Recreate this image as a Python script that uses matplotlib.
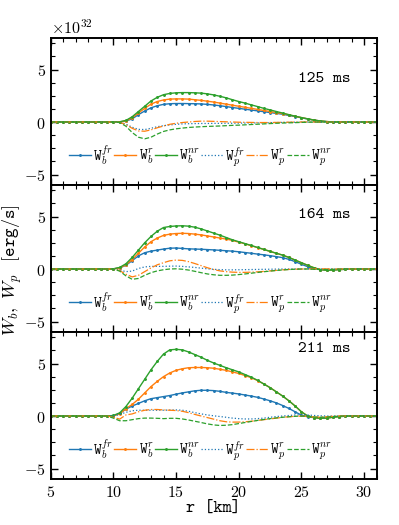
import numpy as np
import matplotlib
matplotlib.use("Agg")
from matplotlib import pyplot as plt
from matplotlib.ticker import MultipleLocator, AutoMinorLocator, FuncFormatter
from matplotlib.font_manager import FontProperties

plt.rcParams["mathtext.fontset"] = "cm"
plt.rcParams["font.family"] = "DejaVu Serif"
tt = FontProperties(fname=matplotlib.get_data_path() + "/fonts/ttf/cmtt10.ttf")

# radius grid [km] (0.5 km sampling), values in units of 1e32 erg/s
r = np.arange(5.0, 31.01, 0.5)
zl = [0.0] * 10   # r = 5 .. 9.5, flat zero
zr = [0.0] * 5    # r = 29 .. 31, flat zero

times = ["125 ms", "164 ms", "211 ms"]

# 125 ms, r = 10 .. 28.5
wb_fr_125 = [0, 0.01, 0.08, 0.3, 0.7, 1.05, 1.35, 1.55, 1.68, 1.74,
             1.76, 1.76, 1.75, 1.74, 1.72, 1.68, 1.62, 1.55, 1.47, 1.38,
             1.3, 1.22, 1.14, 1.06, 0.98, 0.9, 0.82, 0.74, 0.62, 0.52,
             0.4, 0.29, 0.18, 0.1, 0.04, 0.01, 0, 0]
wb_r_125 = [0, 0.01, 0.1, 0.4, 0.85, 1.3, 1.7, 1.95, 2.1, 2.18,
            2.2, 2.2, 2.18, 2.12, 2.06, 1.98, 1.9, 1.8, 1.7, 1.6,
            1.5, 1.4, 1.3, 1.2, 1.1, 1.0, 0.9, 0.8, 0.68, 0.54,
            0.42, 0.3, 0.18, 0.1, 0.04, 0.01, 0, 0]
wb_nr_125 = [0, 0.02, 0.15, 0.5, 1.0, 1.5, 2.0, 2.35, 2.6, 2.72,
             2.78, 2.8, 2.8, 2.78, 2.75, 2.68, 2.58, 2.45, 2.3, 2.12,
             1.95, 1.8, 1.63, 1.47, 1.3, 1.15, 1.0, 0.85, 0.7, 0.55,
             0.42, 0.3, 0.18, 0.1, 0.04, 0.01, 0, 0]
wp_fr_125 = [0, -0.02, -0.2, -0.5, -0.7, -0.72, -0.6, -0.45, -0.35, -0.28,
             -0.22, -0.18, -0.16, -0.15, -0.14, -0.14, -0.13, -0.13, -0.12, -0.12,
             -0.11, -0.1, -0.09, -0.08, -0.07, -0.06, -0.05, -0.04, -0.03, -0.02,
             -0.01, 0, 0, 0, 0, 0, 0, 0]
wp_r_125 = [0, -0.03, -0.25, -0.6, -0.85, -0.88, -0.75, -0.55, -0.38, -0.22,
            -0.12, -0.05, 0.0, 0.05, 0.08, 0.08, 0.06, 0.04, 0.02, 0.0,
            -0.02, -0.03, -0.04, -0.05, -0.05, -0.05, -0.04, -0.03, -0.02, -0.01,
            0, 0, 0, 0, 0, 0, 0, 0]
wp_nr_125 = [0, -0.05, -0.4, -1.0, -1.45, -1.6, -1.45, -1.15, -0.9, -0.75,
             -0.65, -0.58, -0.52, -0.48, -0.45, -0.42, -0.4, -0.38, -0.35, -0.32,
             -0.3, -0.27, -0.24, -0.21, -0.18, -0.15, -0.12, -0.1, -0.08, -0.06,
             -0.04, -0.02, -0.01, 0, 0, 0, 0, 0]

# 164 ms
wb_fr_164 = [0.01, 0.1, 0.35, 0.8, 1.25, 1.55, 1.7, 1.8, 1.9, 1.98,
             2.0, 1.96, 1.92, 1.9, 1.88, 1.85, 1.82, 1.78, 1.74, 1.7,
             1.64, 1.57, 1.5, 1.42, 1.35, 1.27, 1.18, 1.08, 0.92, 0.7,
             0.45, 0.22, 0.05, -0.06, -0.1, -0.08, -0.05, -0.02]
wb_r_164 = [0.01, 0.1, 0.4, 0.9, 1.5, 2.1, 2.6, 2.95, 3.2, 3.32,
            3.38, 3.4, 3.38, 3.32, 3.25, 3.15, 3.05, 2.95, 2.85, 2.72,
            2.56, 2.4, 2.22, 2.04, 1.86, 1.67, 1.5, 1.32, 1.1, 0.85,
            0.6, 0.35, 0.12, -0.05, -0.1, -0.08, -0.05, -0.02]
wb_nr_164 = [0.02, 0.15, 0.5, 1.1, 1.8, 2.5, 3.1, 3.6, 3.95, 4.05,
             4.1, 4.12, 4.08, 3.98, 3.82, 3.62, 3.42, 3.22, 3.0, 2.78,
             2.6, 2.42, 2.24, 2.05, 1.87, 1.68, 1.5, 1.32, 1.1, 0.85,
             0.6, 0.35, 0.12, -0.05, -0.12, -0.1, -0.06, -0.03]
wp_fr_164 = [0, -0.1, -0.25, -0.2, 0.05, 0.2, 0.25, 0.25, 0.25, 0.27,
             0.28, 0.25, 0.2, 0.15, 0.08, 0.02, -0.03, -0.06, -0.08, -0.08,
             -0.07, -0.06, -0.05, -0.04, -0.03, -0.02, -0.01, 0, 0, 0,
             0, 0, 0, 0, 0, 0, 0, 0]
wp_r_164 = [0, -0.15, -0.5, -0.75, -0.6, -0.25, 0.1, 0.4, 0.6, 0.78,
            0.85, 0.82, 0.7, 0.52, 0.32, 0.12, -0.05, -0.18, -0.25, -0.3,
            -0.32, -0.32, -0.3, -0.27, -0.23, -0.18, -0.13, -0.08, -0.04, -0.02,
            0, 0.01, 0.02, 0.02, 0.01, 0, 0, 0]
wp_nr_164 = [0, -0.2, -0.65, -0.98, -0.9, -0.6, -0.35, -0.18, -0.07, 0.0,
             0.02, -0.02, -0.1, -0.22, -0.35, -0.47, -0.55, -0.6, -0.6, -0.58,
             -0.53, -0.47, -0.4, -0.33, -0.26, -0.2, -0.14, -0.09, -0.05, -0.02,
             0, 0, -0.02, -0.05, -0.05, -0.03, -0.01, 0]

# 211 ms
wb_fr_211 = [0.0, 0.25, 0.65, 0.95, 1.2, 1.45, 1.65, 1.75, 1.85, 1.95,
             2.08, 2.2, 2.3, 2.4, 2.45, 2.45, 2.42, 2.35, 2.25, 2.18,
             2.1, 2.0, 1.9, 1.78, 1.62, 1.45, 1.25, 1.0, 0.72, 0.4,
             0.08, -0.08, -0.15, -0.2, -0.18, -0.1, -0.05, -0.02]
wb_r_211 = [0.02, 0.2, 0.7, 1.1, 1.6, 2.2, 2.8, 3.3, 3.75, 4.1,
            4.35, 4.5, 4.6, 4.62, 4.62, 4.6, 4.55, 4.45, 4.35, 4.2,
            4.05, 3.85, 3.65, 3.38, 3.05, 2.7, 2.3, 1.9, 1.45, 0.95,
            0.4, 0.0, -0.15, -0.22, -0.2, -0.12, -0.05, -0.02]
wb_nr_211 = [0.05, 0.3, 0.9, 1.7, 2.6, 3.5, 4.4, 5.2, 5.9, 6.3,
             6.35, 6.3, 6.1, 5.85, 5.6, 5.3, 5.05, 4.82, 4.6, 4.4,
             4.2, 3.95, 3.7, 3.4, 3.05, 2.7, 2.3, 1.9, 1.45, 0.95,
             0.4, 0.0, -0.15, -0.22, -0.2, -0.12, -0.05, -0.02]
wp_fr_211 = [0, 0.15, 0.35, 0.5, 0.55, 0.55, 0.55, 0.55, 0.55, 0.57,
             0.58, 0.55, 0.45, 0.32, 0.2, 0.1, 0.02, -0.05, -0.12, -0.2,
             -0.25, -0.28, -0.28, -0.25, -0.2, -0.12, -0.05, 0.0, 0.05, 0.1,
             0.12, 0.1, 0.05, 0.02, 0, 0, 0, 0]
wp_r_211 = [-0.1, -0.3, 0.1, 0.2, 0.4, 0.55, 0.62, 0.62, 0.58, 0.55,
            0.52, 0.45, 0.32, 0.15, 0.0, -0.15, -0.3, -0.45, -0.55, -0.58,
            -0.58, -0.55, -0.5, -0.42, -0.35, -0.28, -0.2, -0.13, -0.07, -0.03,
            0, -0.05, -0.1, -0.1, -0.07, -0.03, 0, 0]
wp_nr_211 = [-0.2, -0.45, -0.45, -0.35, -0.25, -0.2, -0.2, -0.22, -0.25, -0.22,
             -0.22, -0.28, -0.38, -0.5, -0.62, -0.75, -0.85, -0.9, -0.88, -0.82,
             -0.72, -0.62, -0.52, -0.42, -0.33, -0.25, -0.18, -0.12, -0.07, -0.03,
             0, -0.05, -0.1, -0.12, -0.1, -0.05, -0.02, 0]

panels = [
    [wb_fr_125, wb_r_125, wb_nr_125, wp_fr_125, wp_r_125, wp_nr_125],
    [wb_fr_164, wb_r_164, wb_nr_164, wp_fr_164, wp_r_164, wp_nr_164],
    [wb_fr_211, wb_r_211, wb_nr_211, wp_fr_211, wp_r_211, wp_nr_211],
]
label_y = [4.05, 5.1, 6.35]

names = [r"$\mathtt{W}_b^{fr}$", r"$\mathtt{W}_b^{r}$", r"$\mathtt{W}_b^{nr}$",
         r"$\mathtt{W}_p^{fr}$", r"$\mathtt{W}_p^{r}$", r"$\mathtt{W}_p^{nr}$"]
cols = ["#1f77b4", "#ff7f0e", "#2ca02c"] * 2
styles = ["-", "-", "-", ":", "-.", "--"]

fig, axes = plt.subplots(3, 1, figsize=(3.99, 5.25), dpi=100, sharex=True)
fig.subplots_adjust(left=0.127, right=0.944, top=1 - 38 / 525, bottom=0.0876, hspace=0)

for k, ax in enumerate(axes):
    for j, ys in enumerate(panels[k]):
        y = np.array(zl + ys + zr)
        if j < 3:
            ax.plot(r, y, styles[j], color=cols[j], lw=1.0, marker=".", ms=2.2, label=names[j])
        else:
            ax.plot(r, y, styles[j], color=cols[j], lw=0.9, label=names[j])
    ax.set_xlim(5, 31)
    ax.set_ylim(-6, 8)
    ax.xaxis.set_major_locator(MultipleLocator(5))
    ax.xaxis.set_minor_locator(AutoMinorLocator(5))
    ax.yaxis.set_major_locator(MultipleLocator(5))
    ax.yaxis.set_minor_locator(AutoMinorLocator(4))
    ax.xaxis.set_major_formatter(FuncFormatter(lambda v, p: "$%d$" % v))
    ax.yaxis.set_major_formatter(FuncFormatter(lambda v, p: "$%d$" % v))
    ax.tick_params(which="both", direction="in", top=True, right=True, labelsize=11.5)
    ax.tick_params(which="major", length=5, width=1.0)
    ax.tick_params(which="minor", length=3, width=0.8)
    for s in ax.spines.values():
        s.set_linewidth(1.4)
    ax.text(28.9, label_y[k], times[k], ha="right", va="center",
            fontproperties=tt, fontsize=12)
    ax.legend(loc="center", bbox_to_anchor=(0.46, 0.2), ncol=6, frameon=False,
              fontsize=10.5, handlelength=1.5, handletextpad=0.15, columnspacing=0.1,
              borderpad=0, borderaxespad=0)

axes[0].text(0.0, 1.005, r"$\times 10^{32}$", transform=axes[0].transAxes,
             ha="left", va="bottom", fontsize=11.5)
axes[2].set_xlabel("r [km]", fontproperties=tt, fontsize=12.5, labelpad=0)
fig.text(0.032, 0.486, r"$W_b,\ W_p\enspace\ \mathtt{[erg/s]}$", rotation=90,
         ha="center", va="center", fontsize=13)

plt.savefig("out.png", dpi=100)
